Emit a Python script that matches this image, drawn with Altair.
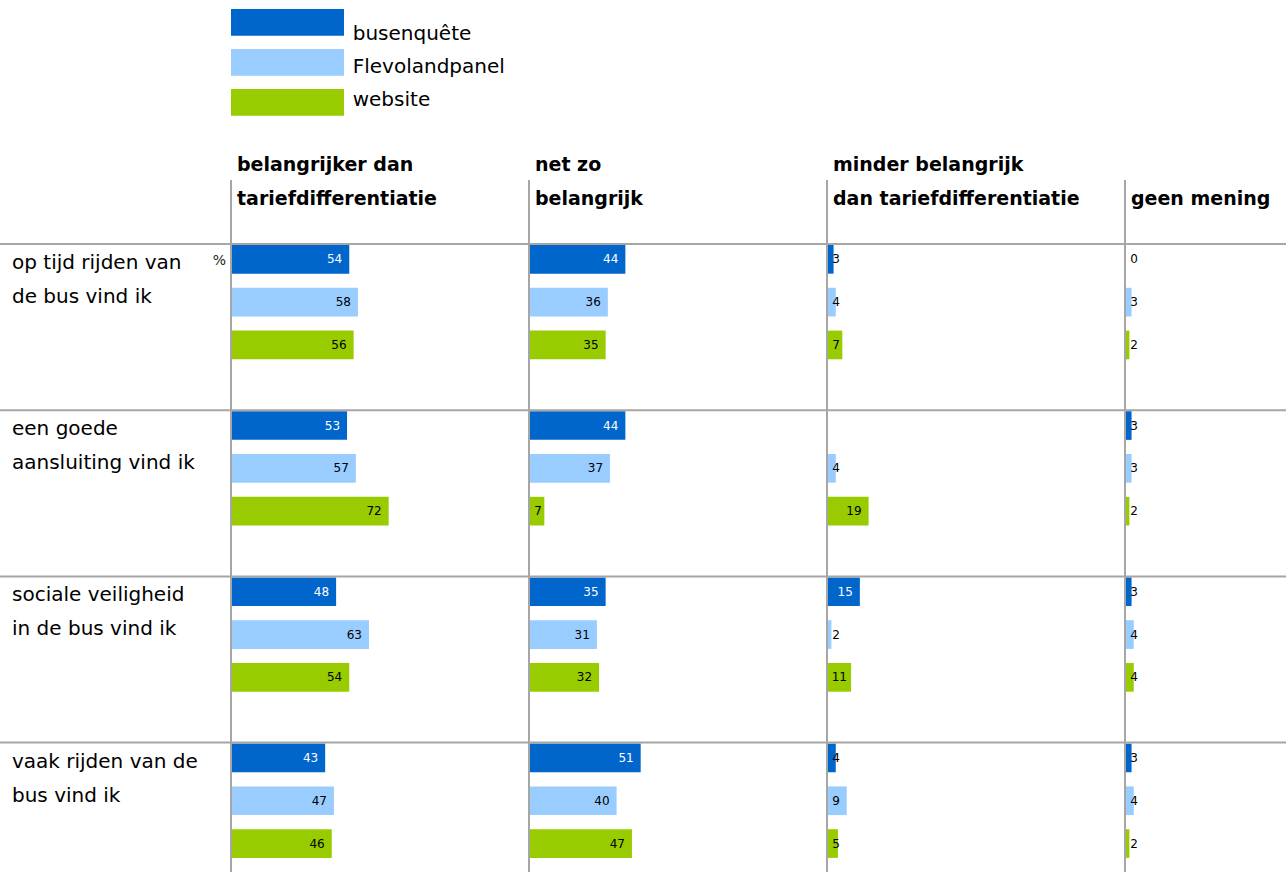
import altair as alt
import pandas as pd

# ---------------- data ----------------
QUESTIONS = [
    "op tijd rijden van\nde bus vind ik",
    "een goede\naansluiting vind ik",
    "sociale veiligheid\nin de bus vind ik",
    "vaak rijden van de\nbus vind ik",
]
CATEGORIES = [
    "belangrijker dan\ntariefdifferentiatie",
    "net zo\nbelangrijk",
    "minder belangrijk\ndan tariefdifferentiatie",
    "geen mening",
]
SERIES = ["busenquête", "Flevolandpanel", "website"]
COLORS = ["#0066cc", "#99ccff", "#99cc00"]

# per question: one list per category, values in SERIES order (%)
OP_TIJD = [[54, 58, 56], [44, 36, 35], [3, 4, 7], [0, 3, 2]]
AANSLUITING = [[53, 57, 72], [44, 37, 7], [None, 4, 19], [3, 3, 2]]
SOCIALE_VEILIGHEID = [[48, 63, 54], [35, 31, 32], [15, 2, 11], [3, 4, 4]]
VAAK_RIJDEN = [[43, 47, 46], [51, 40, 47], [4, 9, 5], [3, 4, 2]]
VALUES = [OP_TIJD, AANSLUITING, SOCIALE_VEILIGHEID, VAAK_RIJDEN]

rows = []
for q, per_cat in zip(QUESTIONS, VALUES):
    for ci, (cat, vals) in enumerate(zip(CATEGORIES, per_cat)):
        for s, v in zip(SERIES, vals):
            rows.append({"question": q, "category": cat, "ci": ci, "series": s, "value": v})
df = pd.DataFrame(rows)
cat_df = pd.DataFrame({"category": CATEGORIES, "ci": list(range(len(CATEGORIES)))})
q_df = pd.DataFrame({"question": QUESTIONS})
s_df = pd.DataFrame({"series": SERIES})

# ---------------- layout ----------------
LEFT, TOP = 231, 244
PLOT_W, PLOT_H = 1286 - LEFT, 872 - TOP
PX = 2.19            # pixels per percent
COL_PX = 298         # width of one answer column
ROW_PX = 166.2       # height of one question row
XMAX = PLOT_W / PX
COL_U = COL_PX / PX
FONT = "DejaVu Sans"
GRID = "#a6a6a6"

xscale = alt.Scale(domain=[0, XMAX], nice=False, zero=False)
yscale = alt.Scale(domain=QUESTIONS, range=[0, ROW_PX * len(QUESTIONS)], paddingInner=0, paddingOuter=0)
yoff = alt.YOffset("series:N", scale=alt.Scale(domain=SERIES, paddingInner=0.33, paddingOuter=0.606, align=0.019))
color = alt.Color("series:N", scale=alt.Scale(domain=SERIES, range=COLORS), legend=None)

base = alt.Chart(df).transform_filter("isValid(datum.value)").transform_calculate(
    x0=f"datum.ci * {COL_U}",
    x1=f"datum.ci * {COL_U} + datum.value",
    lx=f"datum.ci * {COL_U} + max(datum.value - {7 / PX}, (6 + 7 * (datum.value >= 10 ? 2 : 1)) / {PX})",
)

bars = base.mark_bar(strokeWidth=0).encode(
    x=alt.X("x0:Q", scale=xscale, axis=None),
    x2="x1:Q",
    y=alt.Y("question:N", scale=yscale, axis=None),
    yOffset=yoff,
    color=color,
)

lab_enc = dict(
    x=alt.X("lx:Q", scale=xscale, axis=None),
    y=alt.Y("question:N", scale=yscale, axis=None),
    yOffset=yoff,
    text=alt.Text("value:Q", format="d"),
)
labels_white = base.transform_filter(
    "datum.series == 'busenquête' && datum.value >= 10"
).mark_text(align="right", baseline="middle", font=FONT, fontSize=12, color="white").encode(**lab_enc)
labels_black = base.transform_filter(
    "!(datum.series == 'busenquête' && datum.value >= 10)"
).mark_text(align="right", baseline="middle", font=FONT, fontSize=12, color="black").encode(**lab_enc)

vrules = alt.Chart(cat_df).transform_calculate(x0=f"datum.ci * {COL_U}").mark_rule(
    color=GRID, strokeWidth=2
).encode(
    x=alt.X("x0:Q", scale=xscale, axis=None),
    y=alt.value(-64),
    y2=alt.value(PLOT_H),
)

hrules = alt.Chart(q_df).mark_rule(color=GRID, strokeWidth=2).encode(
    y=alt.Y("question:N", scale=yscale, axis=None, bandPosition=0),
    x=alt.value(-LEFT),
    x2=alt.value(PLOT_W),
)

# text marks sit at the band centre: shift to the top of each question row
row_labels = alt.Chart(q_df).mark_text(
    align="left", baseline="top", lineBreak="\n", lineHeight=34, font=FONT, fontSize=20,
    dy=9 - ROW_PX / 2, color="black"
).encode(
    y=alt.Y("question:N", scale=yscale, axis=None),
    x=alt.value(12 - LEFT),
    text="question:N",
)

hdr_base = alt.Chart(cat_df).transform_calculate(
    x0=f"datum.ci * {COL_U}",
    lines="split(datum.category, '\\n')",
    first="length(datum.lines) > 1 ? datum.lines[0] : ''",
    last="peek(datum.lines)",
)
hdr_props = dict(align="left", baseline="alphabetic", font=FONT, fontSize=19, fontWeight="bold", dx=6, color="black")
headers_top = hdr_base.mark_text(**hdr_props).encode(
    x=alt.X("x0:Q", scale=xscale, axis=None),
    y=alt.value(171 - TOP),
    text="first:N",
)
headers_bottom = hdr_base.mark_text(**hdr_props).encode(
    x=alt.X("x0:Q", scale=xscale, axis=None),
    y=alt.value(205 - TOP),
    text="last:N",
)

pct = alt.Chart(pd.DataFrame({"question": [QUESTIONS[0]], "series": [SERIES[0]], "t": ["%"]})).mark_text(
    align="right", baseline="middle", font=FONT, fontSize=14, dx=-5, dy=2, color="#222222"
).encode(
    x=alt.value(0),
    y=alt.Y("question:N", scale=yscale, axis=None),
    yOffset=yoff,
    text="t:N",
)

leg_rects = alt.Chart(s_df).mark_rect().encode(
    x=alt.value(0),
    x2=alt.value(113),
    y=alt.Y("series:N", axis=None,
            scale=alt.Scale(domain=SERIES, range=[9 - TOP, 9 - TOP + 106.7], paddingInner=0.333, paddingOuter=0)),
    color=color,
)
leg_labels = alt.Chart(s_df).mark_text(
    align="left", baseline="alphabetic", font=FONT, fontSize=20, color="black"
).encode(
    x=alt.value(121.7),
    y=alt.Y("series:N", axis=None,
            scale=alt.Scale(type="point", domain=SERIES, range=[40 - TOP, 106 - TOP], padding=0)),
    text="series:N",
)

chart = alt.layer(
    bars, labels_white, labels_black, vrules, hrules, row_labels, headers_top, headers_bottom,
    pct, leg_rects, leg_labels
).resolve_scale(y="independent").properties(
    width=PLOT_W,
    height=PLOT_H,
    autosize=alt.AutoSizeParams(type="none"),
    padding={"left": LEFT, "top": TOP, "right": 0, "bottom": 0},
    background="white",
).configure_view(stroke=None)

chart.save("out.html", embed_options={"renderer": "svg", "actions": False})
